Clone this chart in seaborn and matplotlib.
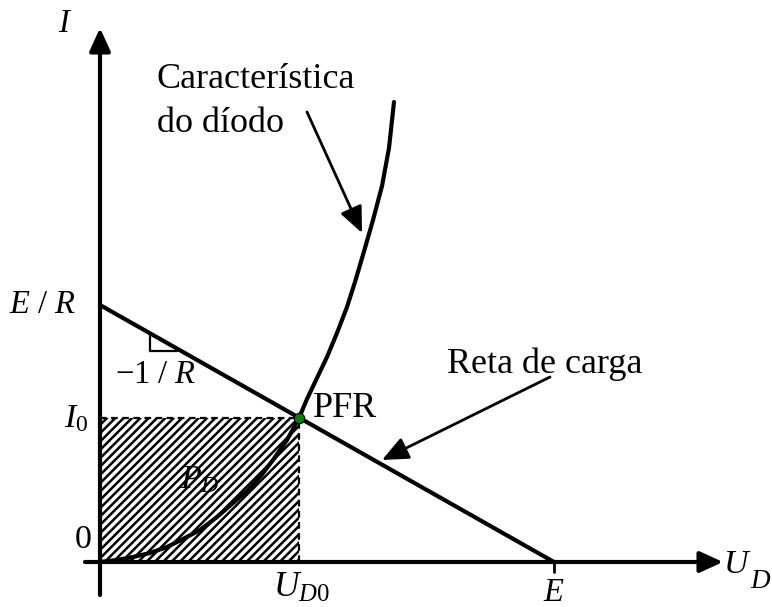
import matplotlib
matplotlib.use("Agg")
import matplotlib.pyplot as plt
import seaborn as sns
import pandas as pd
from matplotlib.patches import Rectangle

# Diode characteristic I(U_D), sampled along the curve
u_diode = [0.00, 0.17, 0.33, 0.50, 0.67, 0.83, 1.00, 1.17, 1.33, 1.47, 1.60, 1.73,
           1.87, 1.99, 2.07, 2.17, 2.27, 2.37, 2.47, 2.55, 2.65, 2.73, 2.82, 2.89, 2.94]
i_diode = [0.00, 0.02, 0.05, 0.09, 0.15, 0.23, 0.32, 0.45, 0.59, 0.71, 0.85, 1.02,
           1.22, 1.44, 1.63, 1.84, 2.05, 2.29, 2.55, 2.80, 3.14, 3.42, 3.76, 4.14, 4.60]

# Load line end points: (0, E/R) and (E, 0)
u_load = [0.00, 4.54]
i_load = [2.57, 0.00]

# Operating point (PFR)
U_D0 = 1.99
I_0 = 1.44

sns.set_theme(style="white")
plt.rcParams["font.family"] = ["Liberation Serif", "DejaVu Serif"]
plt.rcParams["text.color"] = "black"
plt.rcParams["mathtext.fontset"] = "custom"
plt.rcParams["mathtext.rm"] = "Liberation Serif"
plt.rcParams["mathtext.it"] = "Liberation Serif:italic"
plt.rcParams["hatch.linewidth"] = 1.8
plt.rcParams["hatch.color"] = "black"

FS_TXT = 26      # plain captions
FS_SYM = 23.5    # math symbols
LW = 3.0

fig = plt.figure(figsize=(7.72, 6.07), dpi=100)
ax = fig.add_axes([0, 0, 1, 1])
ax.set_xlim(-1.0, 6.72)
ax.set_ylim(-0.45, 5.62)
ax.axis("off")

# Dissipated power area P_D = U_D0 * I_0
ax.add_patch(Rectangle((0, 0), U_D0, I_0, facecolor="none", edgecolor="black",
                       linewidth=0, hatch="////", zorder=1))
ax.plot([0, U_D0], [I_0, I_0], color="black", lw=1.6, ls=(0, (3, 2)), zorder=2)
ax.plot([U_D0, U_D0], [0, I_0], color="black", lw=1.6, ls=(0, (3, 2)), zorder=2)

# Coordinate axes with arrow heads
axis_arrow = dict(arrowstyle="-|>,head_length=0.7,head_width=0.32", mutation_scale=20,
                  lw=LW, color="black", shrinkA=0, shrinkB=0)
ax.annotate("", xy=(0, 5.34), xytext=(0, -0.33), arrowprops=axis_arrow, zorder=3)
ax.annotate("", xy=(6.23, 0), xytext=(-0.15, 0), arrowprops=axis_arrow, zorder=3)
ax.plot([u_load[1], u_load[1]], [0, -0.10], color="black", lw=2.0, zorder=3)

# Load line and diode curve
df_load = pd.DataFrame({"U": u_load, "I": i_load})
df_diode = pd.DataFrame({"U": u_diode, "I": i_diode})
sns.lineplot(data=df_load, x="U", y="I", ax=ax, color="black", lw=LW,
             estimator=None, sort=False, zorder=4)
sns.lineplot(data=df_diode, x="U", y="I", ax=ax, color="black", lw=LW,
             estimator=None, sort=False, zorder=4)

# Slope marker on the load line
ax.plot([0.50, 0.50, 0.77], [2.29, 2.11, 2.11], color="black", lw=1.6, zorder=4)

# Operating point
ax.plot([U_D0], [I_0], marker="o", ms=7.5, mfc="#008000", mec="black", mew=0.8, zorder=6)

# Label arrows
label_arrow = dict(arrowstyle="-|>,head_length=0.8,head_width=0.35", mutation_scale=20,
                   lw=2.0, color="black", shrinkA=0, shrinkB=0)
ax.annotate("", xy=(2.62, 3.29), xytext=(2.07, 4.50), arrowprops=label_arrow, zorder=5)
ax.annotate("", xy=(2.82, 1.02), xytext=(4.50, 1.85), arrowprops=label_arrow, zorder=5)

# Texts
ax.text(-0.35, 5.38, r"$I$", fontsize=FS_SYM, ha="center", va="center")
ax.text(0.57, 4.74, "Característica", fontsize=FS_TXT, ha="left", va="baseline")
ax.text(0.57, 4.30, "do díodo", fontsize=FS_TXT, ha="left", va="baseline")
ax.text(-0.25, 2.57, r"$E\ /\ R$", fontsize=FS_SYM, ha="right", va="center")
ax.text(0.15, 1.87, r"$-1\ /\ R$", fontsize=FS_SYM, ha="left", va="center")
ax.text(-0.12, 1.35, r"$I_0$", fontsize=FS_SYM + 1, ha="right", va="baseline")
ax.text(-0.08, 0.14, r"$0$", fontsize=FS_SYM + 1, ha="right", va="baseline")
ax.text(0.80, 0.74, r"$P_D$", fontsize=FS_SYM + 1, ha="left", va="baseline", zorder=5)
ax.text(2.13, 1.45, "PFR", fontsize=FS_TXT, ha="left", va="baseline")
ax.text(3.47, 1.89, "Reta de carga", fontsize=FS_TXT, ha="left", va="baseline")
ax.text(6.23, -0.11, r"$U$", fontsize=FS_SYM + 1, ha="left", va="baseline")
ax.text(6.50, -0.26, r"$D$", fontsize=FS_SYM - 4, ha="left", va="baseline")
ax.text(4.54, -0.39, r"$E$", fontsize=FS_SYM, ha="center", va="baseline")
ax.text(1.73, -0.35, r"$U_{D0}$", fontsize=FS_SYM + 2, ha="left", va="baseline")

fig.savefig("out.png", dpi=100)
